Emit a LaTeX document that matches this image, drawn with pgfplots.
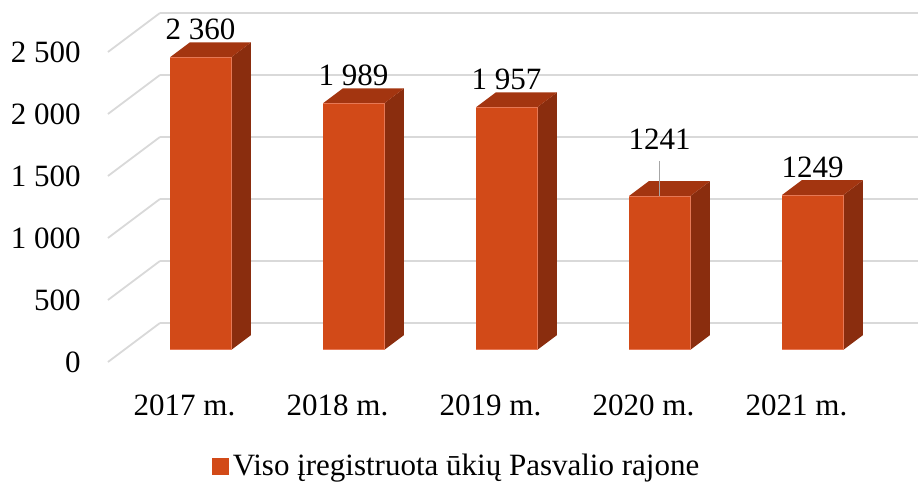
\documentclass[border=0pt]{standalone}
\usepackage{fontspec}
\setmainfont{Liberation Serif}
\usepackage{pgfplots}
\pgfplotsset{compat=1.18}
\usepackage{pgfplotstable}
\definecolor{barfront}{RGB}{210,74,24}
\definecolor{bartop}{RGB}{163,53,16}
\definecolor{barside}{RGB}{138,45,14}
\definecolor{baredge}{RGB}{230,120,85}
\definecolor{gridgray}{RGB}{217,217,217}
\definecolor{leadergray}{RGB}{166,166,166}

% unit faces of a column (dx around the category, depth y, height fraction zf)
\pgfplotstableread{
dx y zf
-0.2 0.31 0
0.2 0.31 0
0.2 0.31 1
-0.2 0.31 1
}\frontface
\pgfplotstableread{
dx y zf
0.2 0.31 0
0.2 0.69 0
0.2 0.69 1
0.2 0.31 1
}\sideface
\pgfplotstableread{
dx y zf
-0.2 0.31 1
0.2 0.31 1
0.2 0.69 1
-0.2 0.69 1
}\topface

\newcommand{\barbox}[2]{%
  \addplot3[forget plot, fill=barside, draw=none, mark=none]
    table[x expr=\thisrow{dx}+#1, y=y, z expr=\thisrow{zf}*#2] {\sideface};
  \addplot3[forget plot, fill=bartop, draw=none, mark=none]
    table[x expr=\thisrow{dx}+#1, y=y, z expr=\thisrow{zf}*#2] {\topface};
  \addplot3[forget plot, fill=barfront, draw=baredge, line width=0.5pt, mark=none]
    table[x expr=\thisrow{dx}+#1, y=y, z expr=\thisrow{zf}*#2] {\frontface};
}

\newcommand{\lblfont}{\fontsize{15.5}{18}\selectfont}

\begin{document}
\begin{tikzpicture}
\begin{axis}[
  x={(76.5pt,0pt)}, y={(26pt,19.5pt)}, z={(0pt,0.062pt)},
  xmin=-0.5, xmax=4.5, ymin=0, ymax=1, zmin=0, zmax=2500,
  xtick={0,1,2,3,4},
  xticklabels={2017 m.,2018 m.,2019 m.,2020 m.,2021 m.},
  ytick=\empty,
  ztick={0,500,1000,1500,2000,2500},
  zticklabels={0,500,1 000,1 500,2 000,2 500},
  zmajorgrids=true, xmajorgrids=false, ymajorgrids=false,
  major grid style={draw=gridgray, line width=0.9pt},
  axis line style={draw=none},
  major tick style={draw=none},
  tick label style={font=\lblfont, inner sep=0pt},
  xticklabel style={anchor=north, yshift=-16pt},
  zticklabel style={anchor=east, xshift=-13.5pt},
  clip=false,
  legend style={draw=none, at={(0.428,-0.30)}, anchor=center, font=\lblfont},
]
\barbox{0}{2360}
\barbox{1}{1989}
\barbox{2}{1957}
\barbox{3}{1241}
\barbox{4}{1249}

\addplot3[forget plot, only marks, mark=none, point meta=explicit symbolic,
  nodes near coords,
  nodes near coords style={anchor=south, inner sep=0pt, yshift=8.5pt, font=\lblfont, text=black}]
  coordinates {(0,0.31,2360) [2 360] (1,0.31,1989) [1 989] (2,0.31,1957) [1 957] (4,0.31,1249) [1249]};
\addplot3[forget plot, only marks, mark=none, point meta=explicit symbolic,
  nodes near coords,
  nodes near coords style={anchor=south, inner sep=0pt, yshift=23pt, font=\lblfont, text=black}]
  coordinates {(3,0.31,1241) [1241]};
\draw[leadergray, line width=0.75pt] (axis cs:3,0.31,1241) -- ++(0pt,17.5pt);

\addlegendimage{legend image code/.code={\fill[barfront] (0pt,-4pt) rectangle (8pt,4pt);}}
\addlegendentry{Viso įregistruota ūkių Pasvalio rajone}

\coordinate (O) at (axis cs:-0.5,0,0);
\end{axis}
\pgfresetboundingbox
\path[use as bounding box] ([shift={(-54pt,-60pt)}]O) rectangle ([shift={(405pt,181pt)}]O);
\end{tikzpicture}
\end{document}
